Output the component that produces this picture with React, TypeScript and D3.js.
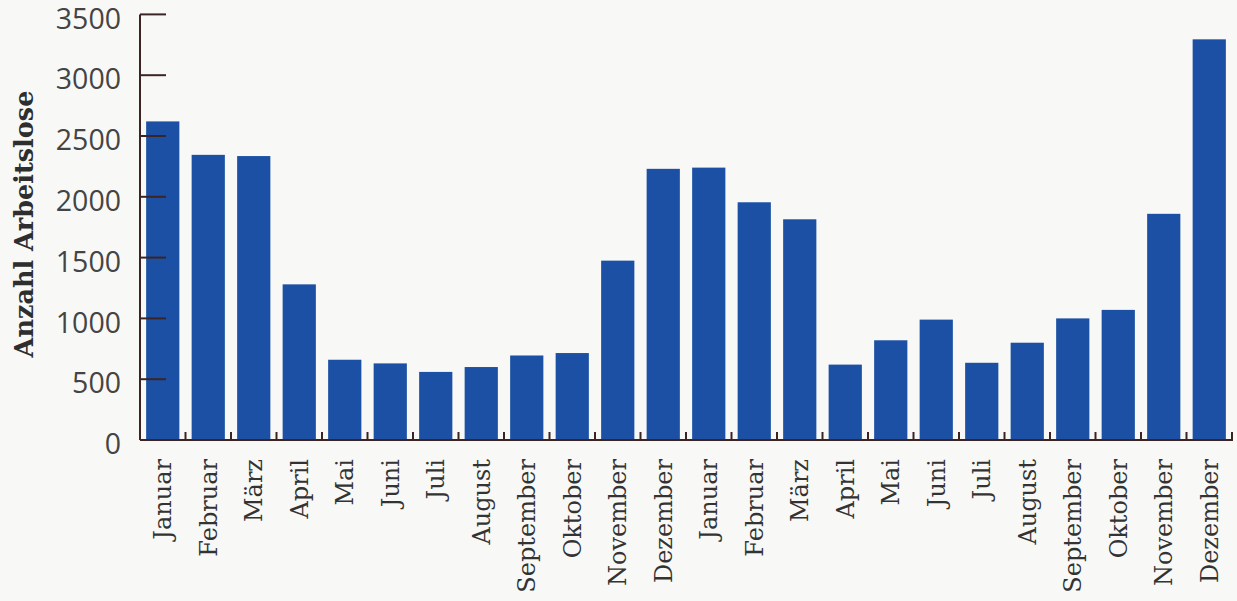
import React from "react";
import * as d3 from "d3";

const months: string[] = [
  "Januar", "Februar", "März", "April", "Mai", "Juni", "Juli", "August",
  "September", "Oktober", "November", "Dezember",
  "Januar", "Februar", "März", "April", "Mai", "Juni", "Juli", "August",
  "September", "Oktober", "November", "Dezember",
];
const values: number[] = [
  2620, 2345, 2335, 1280, 660, 630, 560, 600, 695, 715, 1475, 2230,
  2240, 1955, 1815, 620, 820, 990, 635, 800, 1000, 1070, 1860, 3295,
];
const yTicks: number[] = [0, 500, 1000, 1500, 2000, 2500, 3000, 3500];
const yTitle = "Anzahl Arbeitslose";

const W = 1237;
const H = 601;
const axisColor = "#3d2424";
const barColor = "#1b50a4";
const bg = "#f8f9f7";

export default function App() {
  const ids = months.map((_, i) => String(i));
  const x = d3.scaleBand<string>().domain(ids).range([140, 1232]).paddingInner(0.27).paddingOuter(0.135);
  const y = d3.scaleLinear().domain([0, 3500]).range([440, 14.4]);
  const step = x.step();
  const boundaries = d3.range(1, months.length + 1).map((i) => 140 + i * step);

  return (
    <svg width={W} height={H} style={{ position: "absolute", left: 0, top: 0, background: bg }}>
      <rect x={0} y={0} width={W} height={H} fill={bg} />
      {values.map((v, i) => (
        <rect key={i} x={x(String(i))} y={y(v)} width={x.bandwidth()} height={y(0) - y(v)} fill={barColor} />
      ))}
      {/* y axis */}
      <line x1={140} x2={140} y1={y(0)} y2={y(3500)} stroke={axisColor} strokeWidth={2} />
      {yTicks.map((t) => (
        <g key={t}>
          <line x1={140} x2={166} y1={y(t)} y2={y(t)} stroke={axisColor} strokeWidth={2} />
          <text x={121} y={y(t) + 4} dy="0.36em" textAnchor="end" fontFamily="'Open Sans', sans-serif" fontSize={28.5} fill="#444">
            {t}
          </text>
        </g>
      ))}
      {/* x axis */}
      <line x1={140} x2={1233} y1={y(0)} y2={y(0)} stroke={axisColor} strokeWidth={2} />
      {boundaries.map((bx, i) => (
        <line key={i} x1={bx} x2={bx} y1={y(0)} y2={y(0) - 8} stroke={axisColor} strokeWidth={2} />
      ))}
      {months.map((m, i) => {
        const cx = (x(String(i)) as number) + x.bandwidth() / 2;
        return (
          <text key={i} transform={`translate(${cx},459) rotate(-90)`} dy="0.36em" textAnchor="end"
            fontFamily="'DejaVu Serif', serif" fontSize={24} fill="#333">
            {m}
          </text>
        );
      })}
      <text transform={`translate(24,224) rotate(-90)`} dy="0.36em" textAnchor="middle"
        fontFamily="'DejaVu Serif', serif" fontWeight="bold" fontSize={25.5} fill="#2e2e2e">
        {yTitle}
      </text>
    </svg>
  );
}
